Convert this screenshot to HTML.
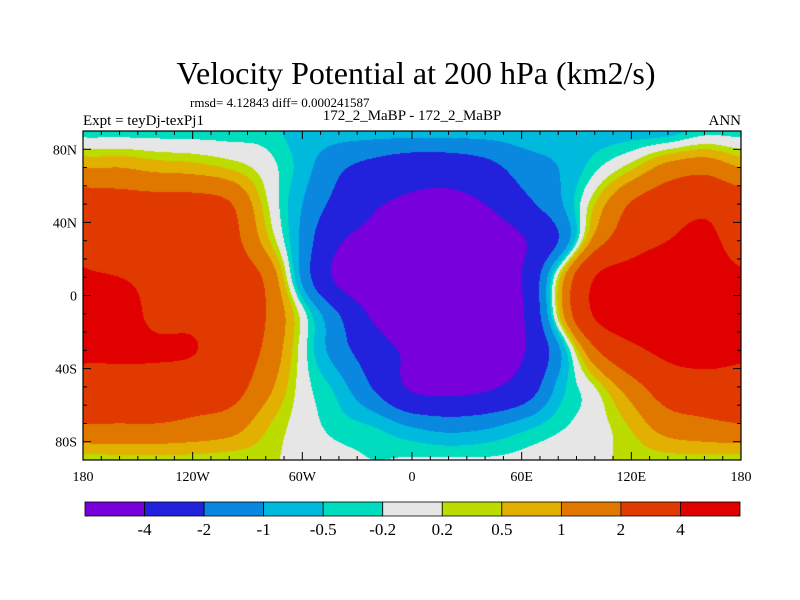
<!DOCTYPE html>
<html><head><meta charset="utf-8">
<style>
body{margin:0;background:#fff;width:800px;height:600px;overflow:hidden;position:relative;font-family:"Liberation Serif",serif}
canvas{position:absolute;left:83px;top:131px}
svg{position:absolute;left:0;top:0}
text{font-family:"Liberation Serif",serif;fill:#000}
</style></head>
<body>
<canvas id="field" width="658" height="329"></canvas>
<svg id="chart" width="800" height="600">
<text x="416" y="84" font-size="32" text-anchor="middle">Velocity Potential at 200 hPa (km2/s)</text>
<text x="190" y="107" font-size="13">rmsd= 4.12843 diff= 0.000241587</text>
<text x="83" y="125" font-size="15">Expt = teyDj-texPj1</text>
<text x="412" y="120" font-size="15" text-anchor="middle">172_2_MaBP - 172_2_MaBP</text>
<text x="741" y="125" font-size="15" text-anchor="end">ANN</text>
<g id="axes"></g>
<g id="cbar"></g>
</svg>
<script>
const lons=[-180,-160,-140,-120,-100,-80,-60,-40,-20,0,20,40,60,80,100,120,140,160,180];
const lats=[90,70,50,30,10,-10,-30,-50,-70,-90];
const row90=[-0.35,-0.35,-0.35,-0.35,-0.35,-0.35,-0.7,-0.7,-0.7,-0.7,-0.7,-0.7,-0.7,-0.7,-0.7,-0.7,-0.7,-0.35,-0.35];
const row70=[1.0,1.0,0.8,0.7,0.45,0,-0.7,-1.8,-2.5,-3,-3,-2.5,-1.5,-1,-0.3,0.4,1.3,1.6,1.0];
const row50=[2.8,2.6,2.5,2.5,2.1,0.3,-1,-2.5,-3.8,-4.4,-4.6,-4.0,-2.5,-1.2,0.5,2.1,3,3.5,2.8];
const row30=[3.2,3,3,3,2.5,0.7,-1.2,-3.8,-4.7,-5.5,-5.5,-5.3,-4.2,-2,1.3,3,4,4.5,3.2];
const row10=[4.3,4,3.5,3,2.8,1.8,-1.2,-4.5,-6,-6,-6,-5.5,-4.0,0.3,4,5,5.5,5,4.3];
const rowS10=[5,5,3.5,3.5,3,2,0,-2,-4.5,-6,-6,-5.5,-4.2,0.4,4.2,5.5,5.5,5.5,5];
const rowS30=[4.5,4.5,4.3,4.1,3,1.8,0,-1.5,-3,-4.5,-4.8,-5,-4.2,-1.2,1.8,3.5,4.5,5,4.5];
const rowS50=[3,3,3,2.8,2.6,1.3,0,-0.7,-2.2,-4.3,-4.6,-4.3,-3.2,-0.8,0.2,1.5,2.8,3,3];
const rowS70=[2,2,2,1.8,1.5,0.6,0,-0.35,-0.6,-1.2,-1.5,-1.3,-0.8,-0.3,0,0.6,1.5,1.8,2];
const rowS90=[0.3,0.35,0.35,0.35,0.3,0.3,0,-0.1,-0.2,-0.15,-0.15,-0.15,-0.1,0,0.1,0.3,0.35,0.35,0.3];
const grid=[row90,row70,row50,row30,row10,rowS10,rowS30,rowS50,rowS70,rowS90];
const levels=[-4,-2,-1,-0.5,-0.2,0.2,0.5,1,2,4];
const levelLabels=["-4","-2","-1","-0.5","-0.2","0.2","0.5","1","2","4"];
const colors=["#7800dc","#2222dc","#0a88e0","#00bade","#00dcbe","#e6e6e6","#bcdc00","#e2b000","#e07800","#e03a00","#e00000"];
const lonTicks=[-180,-120,-60,0,60,120,180];
const lonLabels=["180","120W","60W","0","60E","120E","180"];
const latTicks=[80,40,0,-40,-80];
const latLabels=["80N","40N","0","40S","80S"];

const X0=83,X1=741,Y0=131,Y1=460;
const xs=lon=>X0+(lon+180)/360*(X1-X0);
const ys=lat=>Y0+(90-lat)/180*(Y1-Y0);
function cr(p0,p1,p2,p3,t){return 0.5*((2*p1)+(-p0+p2)*t+(2*p0-5*p1+4*p2-p3)*t*t+(-p0+3*p1-3*p2+p3)*t*t*t);}
function g(j,i){j=Math.max(0,Math.min(lats.length-1,j));
  if(i<0)i+=lons.length-1; if(i>lons.length-1)i-=lons.length-1; return grid[j][i];}
function val(lon,lat){
  let fi=(lon+180)/20, fj=(90-lat)/20;
  let i=Math.min(Math.floor(fi),lons.length-2), j=Math.min(Math.floor(fj),lats.length-2);
  let u=fi-i, v=fj-j;
  const r=[];
  for(let k=-1;k<=2;k++)r.push(cr(g(j+k,i-1),g(j+k,i),g(j+k,i+1),g(j+k,i+2),u));
  return cr(r[0],r[1],r[2],r[3],v);
}
function hex(c){return [parseInt(c.substr(1,2),16),parseInt(c.substr(3,2),16),parseInt(c.substr(5,2),16)];}
const rgb=colors.map(hex);
const cv=document.getElementById('field'),ctx=cv.getContext('2d');
const W=cv.width,H=cv.height,img=ctx.createImageData(W,H);
for(let py=0;py<H;py++){for(let px=0;px<W;px++){
  const lon=-180+(px+0.5)/W*360, lat=90-(py+0.5)/H*180;
  const v=val(lon,lat); let k=0; while(k<levels.length&&v>=levels[k])k++;
  const c=rgb[k],o=(py*W+px)*4; img.data[o]=c[0];img.data[o+1]=c[1];img.data[o+2]=c[2];img.data[o+3]=255;
}}
ctx.putImageData(img,0,0);

const NS="http://www.w3.org/2000/svg";
function mk(tag,attrs,parent){const e=document.createElementNS(NS,tag);for(const k in attrs)e.setAttribute(k,attrs[k]);parent.appendChild(e);return e;}
const ax=document.getElementById('axes');
const frame=mk('rect',{x:X0,y:Y0,width:X1-X0,height:Y1-Y0,fill:'none',stroke:'#000','stroke-width':1.2},ax);


for(let lon=-180;lon<=180;lon+=10){
  const major=lonTicks.includes(lon),L=major?8:4,x=xs(lon);
  const t1=mk('line',{x1:x,x2:x,y1:Y1,y2:Y1-L,stroke:'#000'},ax);
  
  
  const t2=mk('line',{x1:x,x2:x,y1:Y0,y2:Y0+L,stroke:'#000'},ax);
  
  
}
for(let lat=-90;lat<=90;lat+=10){
  const major=latTicks.includes(lat),L=major?8:4,y=ys(lat);
  const t1=mk('line',{x1:X0,x2:X0+L,y1:y,y2:y,stroke:'#000'},ax);
  
  
  const t2=mk('line',{x1:X1,x2:X1-L,y1:y,y2:y,stroke:'#000'},ax);
  
  
}
lonTicks.forEach((lon,i)=>{const t=mk('text',{x:xs(lon),y:481,'font-size':14,'text-anchor':'middle'},ax);t.textContent=lonLabels[i];
  
  });
latTicks.forEach((lat,i)=>{const t=mk('text',{x:X0-6,y:ys(lat)+5,'font-size':14,'text-anchor':'end'},ax);t.textContent=latLabels[i];
  
  });

const cb=document.getElementById('cbar');
const CX0=85,CX1=740,CY=502,CH=14,bw=(CX1-CX0)/colors.length;
colors.forEach((c,i)=>{const r=mk('rect',{x:CX0+i*bw,y:CY,width:bw,height:CH,fill:c,stroke:'#000','stroke-width':0.8},cb);
  
  });
levelLabels.forEach((s,i)=>{const t=mk('text',{x:CX0+(i+1)*bw,y:535,'font-size':17,'text-anchor':'middle'},cb);t.textContent=s;
  
  });
</script>
</body></html>
